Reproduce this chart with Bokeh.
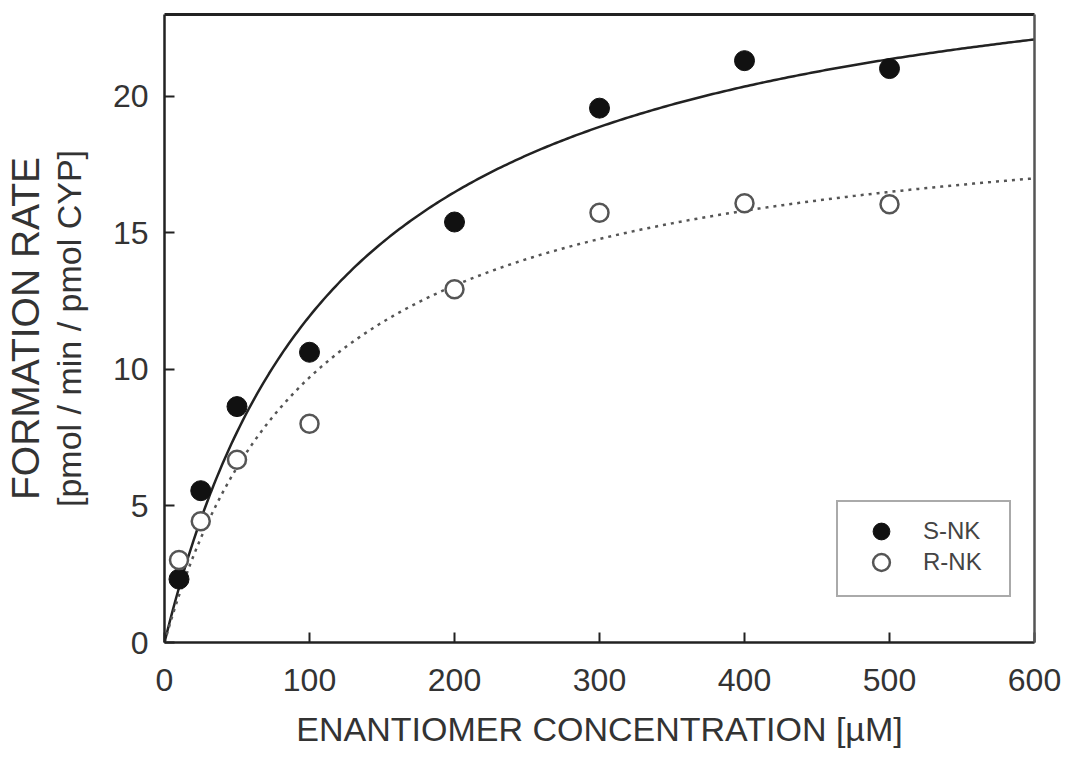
import numpy as np
from bokeh.plotting import figure
from bokeh.models import LinearAxis, FixedTicker, Range1d, Legend, LegendItem, ColumnDataSource
from bokeh.embed import file_html
from bokeh.resources import INLINE

# ---- data ----
conc = [10, 25, 50, 100, 200, 300, 400, 500]
s_nk = [2.32, 5.56, 8.64, 10.63, 15.40, 19.57, 21.31, 21.02]
r_nk = [3.02, 4.44, 6.69, 8.01, 12.94, 15.74, 16.09, 16.05]
x_ticks = [0, 100, 200, 300, 400, 500, 600]
y_ticks = [0, 5, 10, 15, 20]
# Michaelis-Menten fit parameters
s_vmax, s_km = 26.6, 122.6
r_vmax, r_km = 20.0, 106.0

curve_x = np.linspace(0, 600, 301)
s_fit = s_vmax * curve_x / (s_km + curve_x)
r_fit = r_vmax * curve_x / (r_km + curve_x)

TXT = "#333333"
FONT = "Liberation Sans"

p = figure(width=1064, height=760, x_range=Range1d(0, 600), y_range=Range1d(0, 23),
           output_backend="svg", toolbar_location=None,
           min_border_left=163, min_border_right=30, min_border_top=14, min_border_bottom=118)
p.grid.visible = False
p.outline_line_color = None

xa = p.below[0]
ya = p.left[0]
for ax in (xa, ya):
    ax.major_tick_in = 10
    ax.major_tick_out = 0
    ax.minor_tick_line_color = None
    ax.axis_line_width = 2.5
    ax.axis_line_color = "#222222"
    ax.major_tick_line_width = 2
    ax.major_tick_line_color = "#222222"
    ax.major_label_text_font = FONT
    ax.major_label_text_font_size = "32px"
    ax.major_label_text_color = TXT
    ax.axis_label_text_font = FONT
    ax.axis_label_text_font_style = "normal"
    ax.axis_label_text_color = TXT

xa.ticker = FixedTicker(ticks=x_ticks)
ya.ticker = FixedTicker(ticks=y_ticks)
xa.major_label_standoff = 26
ya.major_label_standoff = 16
xa.axis_label = "ENANTIOMER CONCENTRATION [\u00b5M]"
xa.axis_label_text_font_size = "34px"
xa.axis_label_standoff = 16
ya.axis_label = "[pmol / min / pmol CYP]"
ya.axis_label_text_font_size = "34px"
ya.axis_label_standoff = 22

# outer y label line
ya2 = LinearAxis(ticker=FixedTicker(ticks=[]), axis_line_color=None,
                 major_tick_line_color=None, minor_tick_line_color=None,
                 major_label_standoff=0, axis_label="FORMATION RATE",
                 axis_label_text_font=FONT, axis_label_text_font_size="39px",
                 axis_label_text_font_style="normal", axis_label_text_color=TXT,
                 axis_label_standoff=0)
p.add_layout(ya2, "left")

# frame top and right
top = LinearAxis(ticker=FixedTicker(ticks=[]), axis_line_color="#222222", axis_line_width=3,
                 major_tick_line_color=None, minor_tick_line_color=None,
                 major_label_standoff=0, major_label_text_font_size="0px")
p.add_layout(top, "above")
right = LinearAxis(ticker=FixedTicker(ticks=[]), axis_line_color="#555555", axis_line_width=2.5,
                   major_tick_line_color=None, minor_tick_line_color=None,
                   major_label_standoff=0, major_label_text_font_size="0px")
p.add_layout(right, "right")

# fitted curves
p.line(curve_x, s_fit, line_color="#222222", line_width=2.5)
p.line(curve_x, r_fit, line_color="#555555", line_width=2.5, line_dash="3 5")

src = ColumnDataSource(dict(x=conc, s=s_nk, r=r_nk))
rs = p.scatter("x", "s", source=src, size=20, fill_color="#111111", line_color="#111111", line_width=1)
rr = p.scatter("x", "r", source=src, size=18, fill_color="white", line_color="#555555", line_width=2.5)

# legend frame (an empty, invisible entry that only provides the box)
blank = p.scatter(x=[], y=[], fill_alpha=0, line_alpha=0)
box = Legend(items=[LegendItem(label=" ", renderers=[blank])],
             location=(672, 45), margin=0, padding=0,
             glyph_width=171, glyph_height=93, label_standoff=0, label_width=0,
             label_text_font_size="1px", border_line_color="#555555",
             border_line_width=2, background_fill_color="white", background_fill_alpha=1.0)
p.add_layout(box)

common = dict(margin=0, padding=0, glyph_width=80, glyph_height=42, label_standoff=2,
              label_width=60, label_text_font=FONT, label_text_font_size="24px",
              label_text_color="#444444", border_line_color=None,
              background_fill_alpha=0.0)
leg_s = Legend(items=[LegendItem(label="S-NK", renderers=[rs])], location=(677, 90), **common)
leg_r = Legend(items=[LegendItem(label="R-NK", renderers=[rr])], location=(677, 59), **common)
p.add_layout(leg_s)
p.add_layout(leg_r)

open("out.html", "w").write(file_html(p, INLINE))
